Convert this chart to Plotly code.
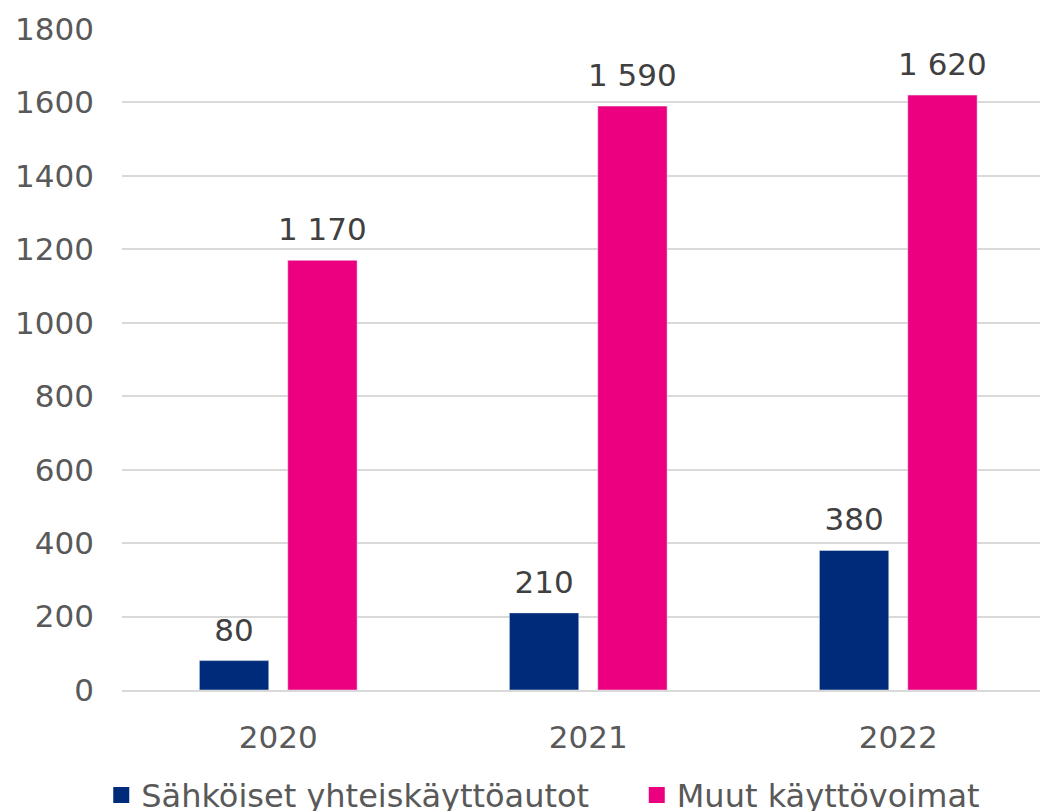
import plotly.graph_objects as go

years = ["2020", "2021", "2022"]
electric = [80, 210, 380]
other = [1170, 1590, 1620]
series_names = ["Sähköiset yhteiskäyttöautot", "Muut käyttövoimat"]
colors = ["#002B7A", "#EC0080"]
y_ticks = [0, 200, 400, 600, 800, 1000, 1200, 1400, 1600, 1800]

FONT = "Verdana, DejaVu Sans, sans-serif"
FS = 31
LFS = 32

fig = go.Figure()
groups = ["a", "b"]
for vals, name, col, g in zip([electric, other], series_names, colors, groups):
    fig.add_trace(go.Bar(x=years, y=vals, name=name, marker_color=col,
                         offsetgroup=g, alignmentgroup="main",
                         showlegend=False))
# value labels (invisible markers give the label some lift above the bar)
for vals, g in zip([electric, other], groups):
    fig.add_trace(go.Scatter(x=years, y=vals, mode="markers+text",
                             text=[f"{v:,}".replace(",", " ") for v in vals],
                             textposition="top center",
                             offsetgroup=g, alignmentgroup="main",
                             marker=dict(size=18, color="rgba(0,0,0,0)"),
                             textfont=dict(size=FS, color="#404040", family=FONT),
                             cliponaxis=False, showlegend=False, hoverinfo="skip"))
# legend entries with square swatches (one legend per entry)
for name, col, lg in zip(series_names, colors, ["legend", "legend2"]):
    fig.add_trace(go.Scatter(x=[None], y=[None], mode="markers", name=name,
                             marker=dict(symbol="square", size=17, color=col),
                             showlegend=True, legend=lg))

leg_common = dict(orientation="h", y=-0.159, yanchor="middle", xanchor="left",
                  font=dict(size=LFS, color="#595959"), itemwidth=30,
                  bgcolor="rgba(0,0,0,0)")
fig.update_layout(
    width=1040, height=803,
    margin=dict(l=114, r=0, t=21, b=121, autoexpand=False),
    paper_bgcolor="white", plot_bgcolor="white",
    barmode="group", bargap=0.43, bargroupgap=0.215,
    scattermode="group", scattergap=0.43,
    font=dict(family=FONT, size=FS, color="#595959"),
    showlegend=True,
    legend=dict(x=-0.0224, **leg_common),
    legend2=dict(x=0.5559, **leg_common),
)
fig.update_yaxes(range=[0, 1800], tickvals=y_ticks, showgrid=True,
                 gridcolor="#D9D9D9", gridwidth=1.5, zeroline=False,
                 showline=False, ticks="", ticklabelstandoff=27, automargin=False,
                 tickfont=dict(size=FS, color="#595959"))
fig.update_xaxes(range=[-0.504, 2.483], showline=True, linecolor="#D9D9D9",
                 linewidth=1.5, ticks="", ticklabelstandoff=19, automargin=False,
                 tickfont=dict(size=FS, color="#595959"))

fig.write_html("out.html")
